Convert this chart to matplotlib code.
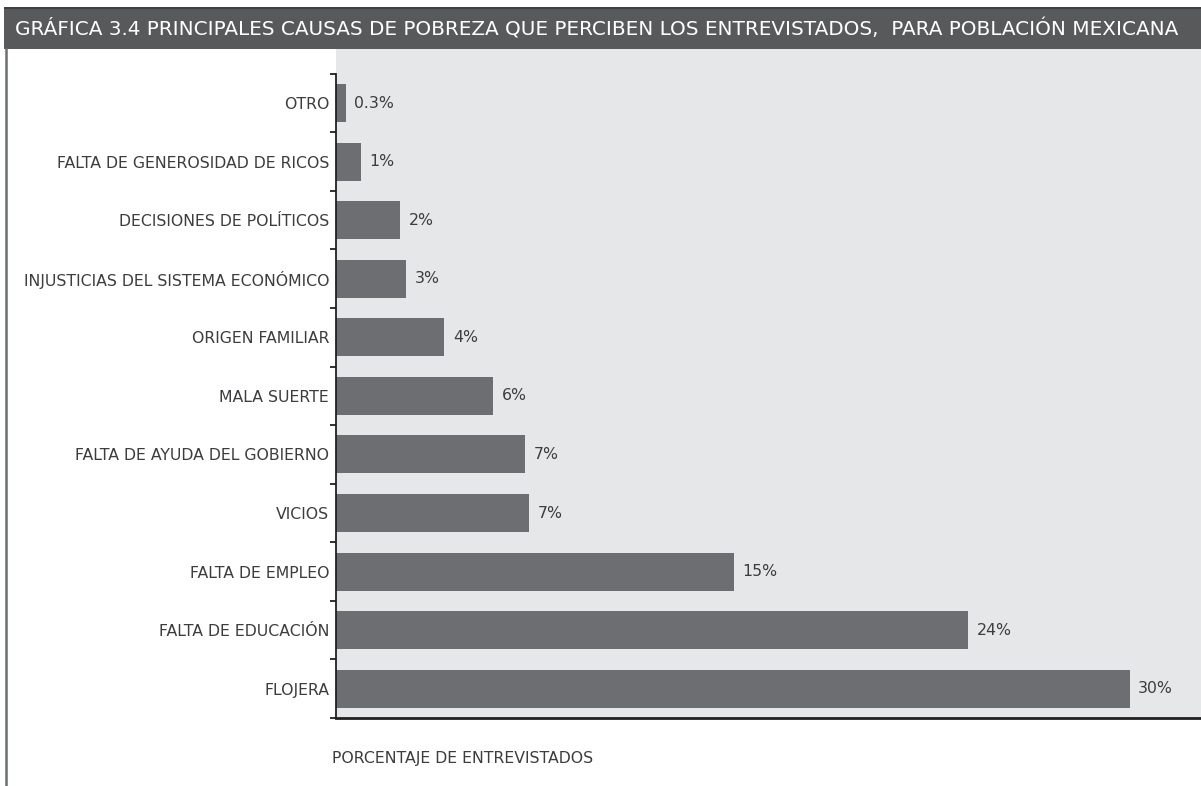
import matplotlib.pyplot as plt
import matplotlib.patches as mpatches

plt.rcParams['font.family'] = ['DejaVu Sans']

# data, bottom to top
causes = ['FLOJERA', 'FALTA DE EDUCACIÓN', 'FALTA DE EMPLEO', 'VICIOS',
          'FALTA DE AYUDA DEL GOBIERNO', 'MALA SUERTE', 'ORIGEN FAMILIAR',
          'INJUSTICIAS DEL SISTEMA ECONÓMICO', 'DECISIONES DE POLÍTICOS',
          'FALTA DE GENEROSIDAD DE RICOS', 'OTRO']
values = [30.0, 23.9, 15.05, 7.3, 7.15, 5.95, 4.1, 2.65, 2.43, 0.95, 0.38]
value_labels = ['30%', '24%', '15%', '7%', '7%', '6%', '4%', '3%', '2%', '1%', '0.3%']

title = 'GRÁFICA 3.4 PRINCIPALES CAUSAS DE POBREZA QUE PERCIBEN LOS ENTREVISTADOS,  PARA POBLACIÓN MEXICANA'
xlabel = 'PORCENTAJE DE ENTREVISTADOS'

W, H = 1201, 786
bar_color = '#6d6e71'
bg_color = '#e6e7e8'
text_color = '#3d3d3f'

fig = plt.figure(figsize=(W / 100, H / 100), dpi=100)

# title bar and left frame line
fig.patches.append(mpatches.Rectangle((4 / W, 1 - 49 / H), 1 - 4 / W, 41 / H,
                                      transform=fig.transFigure, facecolor='#58595b',
                                      edgecolor='none', zorder=0))
fig.patches.append(mpatches.Rectangle((4 / W, 1 - 9 / H), 1 - 4 / W, 2 / H,
                                      transform=fig.transFigure, facecolor='#3f4042',
                                      edgecolor='none', zorder=0))
fig.add_artist(plt.Line2D([6 / W, 6 / W], [0, 1 - 49 / H], transform=fig.transFigure,
                          color='#6d6e71', linewidth=1.8))
fig.text(15 / W, 1 - 29 / H, title, color='white', fontsize=14.4,
         ha='left', va='center')

ax = fig.add_axes([336 / W, 68 / H, (W - 336) / W, (718 - 48) / H])
ax.set_facecolor(bg_color)
pos = list(range(len(causes)))
ax.barh(pos, values, height=0.65, color=bar_color, zorder=2)

ax.set_xlim(0, 32.7)
ax.set_ylim(-0.5, 10.94)

for p, v, lab in zip(pos, values, value_labels):
    ax.annotate(lab, (v, p), xytext=(6, 0), textcoords='offset points',
                ha='left', va='center', fontsize=11.3, color=text_color)

for s in ['top', 'right']:
    ax.spines[s].set_visible(False)
ax.spines['left'].set_bounds(-0.5, 10.5)
ax.spines['left'].set_linewidth(1.3)
ax.spines['left'].set_color('#231f20')
ax.spines['bottom'].set_linewidth(2)
ax.spines['bottom'].set_color('#231f20')

ax.set_yticks(pos)
ax.set_yticklabels(causes, fontsize=11.3, color=text_color)
ax.set_yticks([p - 0.5 for p in pos] + [10.5], minor=True)
ax.tick_params(axis='y', which='major', length=0, pad=5)
ax.tick_params(axis='y', which='minor', length=4, width=1.3, color='#231f20')
ax.set_xticks([])

fig.text(332 / W, 1 - 759 / H, xlabel, fontsize=11.3, color=text_color,
         ha='left', va='center')

fig.savefig('out.png', dpi=100, facecolor='white')
